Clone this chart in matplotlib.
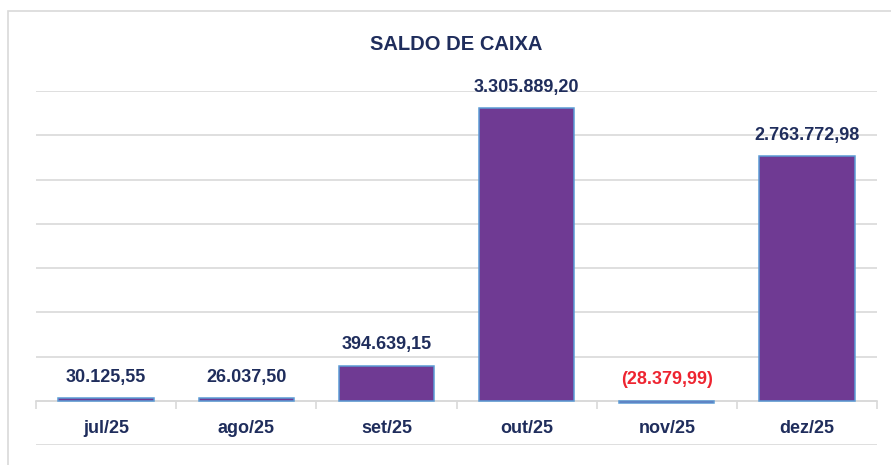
import matplotlib
matplotlib.use("Agg")
import matplotlib.pyplot as plt
from matplotlib.patches import Rectangle

# dados
meses = ['jul/25', 'ago/25', 'set/25', 'out/25', 'nov/25', 'dez/25']
saldo = [30125.55, 26037.50, 394639.15, 3305889.20, -28379.99, 2763772.98]

AZUL_TXT = '#1F2D5C'
ROXO = '#6F3A93'
BORDA = '#5B9BD5'
CINZA = '#D9D9D9'
VERMELHO = '#EE2430'

plt.rcParams['font.family'] = ['Liberation Sans', 'DejaVu Sans']


def fmt_br(v):
    """Formata no padrão brasileiro, negativos entre parênteses"""
    s = f"{abs(v):,.2f}".replace(',', 'X').replace('.', ',').replace('X', '.')
    return f"({s})" if v < 0 else s


fig = plt.figure(figsize=(8.91, 4.65), dpi=100)
ax = fig.add_axes([36 / 891, 1 - 445 / 465, (877 - 36) / 891, (445 - 91) / 465])

x = list(range(len(meses)))
ax.bar(x, saldo, width=0.68, color=ROXO, edgecolor=BORDA, linewidth=1.1, zorder=3)

# rótulos dos valores
for xi, v in zip(x, saldo):
    base = max(v, 0)
    ax.annotate(fmt_br(v), (xi, base), xytext=(0, 15), textcoords='offset points',
                ha='center', va='center', fontsize=13, fontweight='bold',
                color=VERMELHO if v < 0 else AZUL_TXT, zorder=4)

ax.set_xlim(-0.5, len(meses) - 0.5)
ax.set_ylim(-500000, 3500000)
ax.set_yticks(range(-500000, 3500001, 500000))
ax.yaxis.grid(True, color=CINZA, linewidth=1.2, zorder=0)
ax.tick_params(axis='y', length=0, labelleft=False)

for lado in ['top', 'right', 'left']:
    ax.spines[lado].set_visible(False)
ax.spines['bottom'].set_position(('data', 0))
ax.spines['bottom'].set_color(CINZA)
ax.spines['bottom'].set_linewidth(1.2)
ax.spines['bottom'].set_zorder(2)

ax.set_xticks(x)
ax.set_xticklabels(meses, fontsize=13, fontweight='bold', color=AZUL_TXT)
ax.set_xticks([i - 0.5 for i in range(len(meses) + 1)], minor=True)
ax.tick_params(axis='x', which='major', length=0, pad=14)
ax.tick_params(axis='x', which='minor', length=6, width=1.2, color=CINZA, direction='out')

fig.text(456 / 891, 1 - 45 / 465, 'SALDO DE CAIXA', ha='center', va='center',
         fontsize=14.5, fontweight='bold', color=AZUL_TXT)

# moldura do gráfico
fig.patches.append(Rectangle((8 / 891, -0.1), 2, 1.1 - 11 / 465, transform=fig.transFigure,
                             fill=False, edgecolor=CINZA, linewidth=1.2))

fig.savefig('out.png', dpi=100)
